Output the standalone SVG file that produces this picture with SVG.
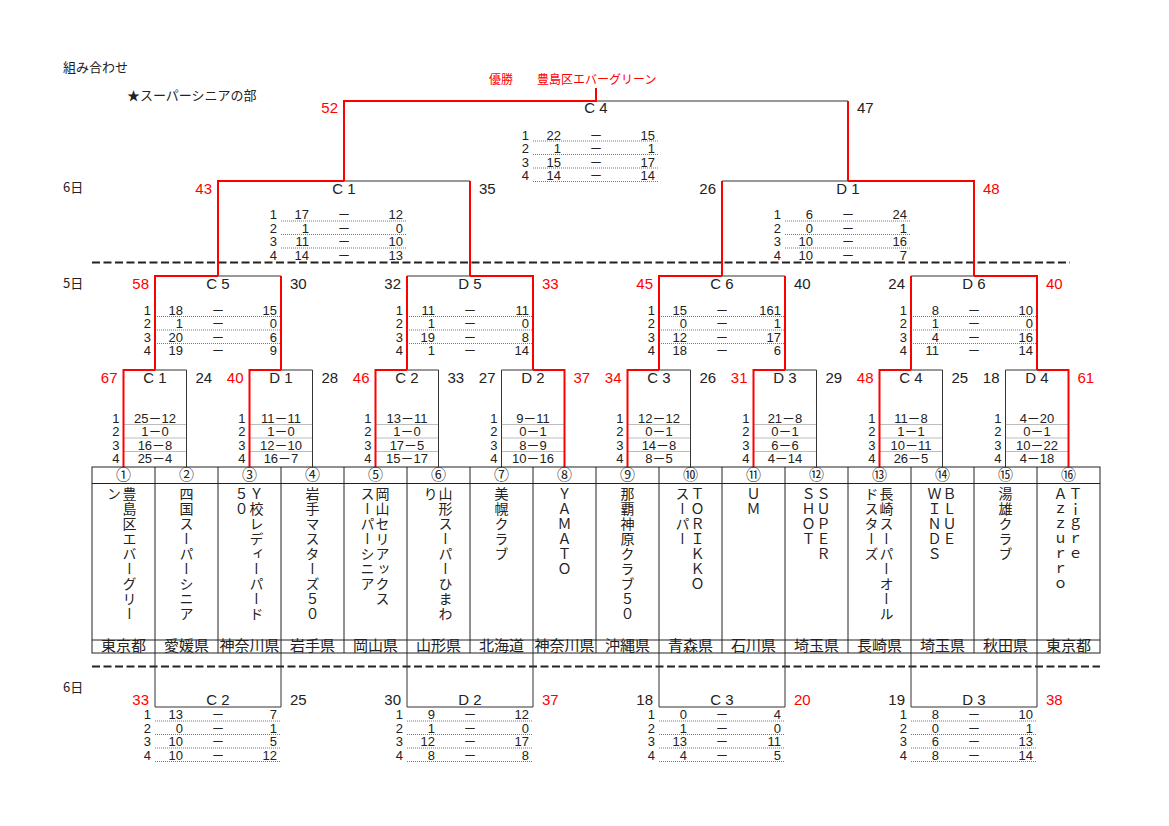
<svg xmlns="http://www.w3.org/2000/svg" width="1169" height="826" viewBox="0 0 1169 826">
<style>
text{font-family:"Liberation Sans","Noto Sans CJK JP",sans-serif;font-size:15px;fill:#222}
.sc text{font-size:13px}
.j{font-family:"Noto Sans CJK JP",sans-serif}
.s13{font-size:13px}
.s12{font-size:12px}
.rd{fill:#f00}
.e{text-anchor:end}
.m{text-anchor:middle}
.v{writing-mode:vertical-rl;font-family:"Noto Sans CJK JP",sans-serif;font-size:14px;letter-spacing:1px}
.ln{stroke:#333;stroke-width:1;fill:none}
.rl{stroke:#f00;stroke-width:2;fill:none}
.dt{stroke:#555;stroke-width:0.8;stroke-dasharray:1 1;fill:none}
.dash{stroke:#222;stroke-width:2;stroke-dasharray:8 3.5;fill:none}
.tb{stroke:#222;stroke-width:1;fill:none}
</style>
<rect width="1169" height="826" fill="#fff"/>

<g id="header">
<text x="63" y="72" class="j s13">組み合わせ</text>
<text x="127" y="100" class="j s13">★スーパーシニアの部</text>
<text x="489" y="84" class="j s12 rd">優勝</text>
<text x="537" y="84" class="j s12 rd">豊島区エバーグリーン</text>
<text x="63" y="192" class="j s13">6日</text>
<text x="63" y="288" class="j s13">5日</text>
<text x="63" y="692" class="j s13">6日</text>
</g>

<g id="connectors">
<path class="dash" d="M92 262.5H1070"/>
<path class="dash" d="M92 666.5H1100"/>
<path class="ln" d="M123.5 467V370H186.5V467M249.5 467V370H312.5V467M375.5 467V370H438.5V467M501.5 467V370H564.5V467M627.5 467V370H690.5V467M753.5 467V370H816.5V467M879.5 467V370H942.5V467M1005.5 467V370H1068.5V467"/>
<path class="ln" d="M155 370V276H281V370M407 370V276H533V370M659 370V276H785V370M911 370V276H1037V370"/>
<path class="ln" d="M218 276V181H470V276M722 276V181H974V276"/>
<path class="ln" d="M344 181V101H848V181"/>
<path class="ln" d="M155 653V707H281V653M407 653V707H533V653M659 653V707H785V653M911 653V707H1037V653"/>
<path class="rl" d="M123.5 467V370H155M249.5 467V370H281M375.5 467V370H407M564.5 467V370H533M627.5 467V370H659M753.5 467V370H785M879.5 467V370H911M1068.5 467V370H1037"/>
<path class="rl" d="M281 370V276M155 370V276H218M407 370V276M533 370V276H470M785 370V276M659 370V276H722M911 370V276M1037 370V276H974"/>
<path class="rl" d="M470 276V181M218 276V181H344M722 276V181M974 276V181H848"/>
<path class="rl" d="M848 181V101M344 181V101H596V88"/>
</g>

<g id="table">
<rect class="tb" x="92" y="467" width="1008" height="186"/>
<path class="tb" d="M92 483.5H1100M92 640H1100M155 467V653M218 467V653M281 467V653M344 467V653M407 467V653M470 467V653M533 467V653M596 467V653M659 467V653M722 467V653M785 467V653M848 467V653M911 467V653M974 467V653M1037 467V653"/>
<g class="j s12">
<text x="123.5" y="479.5" class="m">①</text><text x="186.5" y="479.5" class="m">②</text><text x="249.5" y="479.5" class="m">③</text><text x="312.5" y="479.5" class="m">④</text>
<text x="375.5" y="479.5" class="m">⑤</text><text x="438.5" y="479.5" class="m">⑥</text><text x="501.5" y="479.5" class="m">⑦</text><text x="564.5" y="479.5" class="m">⑧</text>
<text x="627.5" y="479.5" class="m">⑨</text><text x="690.5" y="479.5" class="m">⑩</text><text x="753.5" y="479.5" class="m">⑪</text><text x="816.5" y="479.5" class="m">⑫</text>
<text x="879.5" y="479.5" class="m">⑬</text><text x="942.5" y="479.5" class="m">⑭</text><text x="1005.5" y="479.5" class="m">⑮</text><text x="1068.5" y="479.5" class="m">⑯</text>
<text x="123.5" y="650.5" class="m">東京都</text><text x="186.5" y="650.5" class="m">愛媛県</text><text x="249.5" y="650.5" class="m">神奈川県</text><text x="312.5" y="650.5" class="m">岩手県</text>
<text x="375.5" y="650.5" class="m">岡山県</text><text x="438.5" y="650.5" class="m">山形県</text><text x="501.5" y="650.5" class="m">北海道</text><text x="564.5" y="650.5" class="m">神奈川県</text>
<text x="627.5" y="650.5" class="m">沖縄県</text><text x="690.5" y="650.5" class="m">青森県</text><text x="753.5" y="650.5" class="m">石川県</text><text x="816.5" y="650.5" class="m">埼玉県</text>
<text x="879.5" y="650.5" class="m">長崎県</text><text x="942.5" y="650.5" class="m">埼玉県</text><text x="1005.5" y="650.5" class="m">秋田県</text><text x="1068.5" y="650.5" class="m">東京都</text>
</g>
</g>

<g id="team1"><text class="v" x="129.5" y="487">豊島区エバーグリー</text><text class="v" x="114" y="487">ン</text></g>
<g id="team2"><text class="v" x="186.5" y="487">四国スーパーシニア</text></g>
<g id="team3"><text class="v" x="256.5" y="487">Ｙ校レディーパード</text><text class="v" x="241.5" y="487">５０</text></g>
<g id="team4"><text class="v" x="312.5" y="487">岩手マスターズ５０</text></g>
<g id="team5"><text class="v" x="382.5" y="487">岡山セリアックス</text><text class="v" x="367.5" y="487">スーパーシニア</text></g>
<g id="team6"><text class="v" x="445.5" y="487">山形スーパーひまわ</text><text class="v" x="430.5" y="487">り</text></g>
<g id="team7"><text class="v" x="501.5" y="487">美幌クラブ</text></g>
<g id="team8"><text class="v" x="564.5" y="487">ＹＡＭＡＴＯ</text></g>
<g id="team9"><text class="v" x="627.5" y="487">那覇神原クラブ５０</text></g>
<g id="team10"><text class="v" x="697.5" y="487">ＴＯＲＩＫＫＯ</text><text class="v" x="682.5" y="487">スーパー</text></g>
<g id="team11"><text class="v" x="753.5" y="487">ＵＭ</text></g>
<g id="team12"><text class="v" x="823.5" y="487">ＳＵＰＥＲ</text><text class="v" x="808.5" y="487">ＳＨＯＴ</text></g>
<g id="team13"><text class="v" x="886.5" y="487">長崎スーパーオール</text><text class="v" x="871.5" y="487">ドスターズ</text></g>
<g id="team14"><text class="v" x="949.5" y="487">ＢＬＵＥ</text><text class="v" x="934.5" y="487">ＷＩＮＤＳ</text></g>
<g id="team15"><text class="v" x="1005.5" y="487">湯雄クラブ</text></g>
<g id="team16"><text class="v" x="1075.5" y="487">Ｔｉｇｒｅ</text><text class="v" x="1060.5" y="487">Ａｚｚｕｒｒｏ</text></g>

<g id="final-C4">
<text x="338" y="113" class="e rd">52</text><text x="596" y="113" class="m">C 4</text><text x="857" y="113">47</text>
<path class="dt" d="M533 141H659M533 154.5H659M533 168H659M533 181.5H659"/>
<g class="sc">
<text x="529" y="139.5" class="e">1</text><text x="561" y="139.5" class="e">22</text><text x="596" y="139.5" class="m">－</text><text x="655" y="139.5" class="e">15</text>
<text x="529" y="153" class="e">2</text><text x="561" y="153" class="e">1</text><text x="596" y="153" class="m">－</text><text x="655" y="153" class="e">1</text>
<text x="529" y="166.5" class="e">3</text><text x="561" y="166.5" class="e">15</text><text x="596" y="166.5" class="m">－</text><text x="655" y="166.5" class="e">17</text>
<text x="529" y="180" class="e">4</text><text x="561" y="180" class="e">14</text><text x="596" y="180" class="m">－</text><text x="655" y="180" class="e">14</text>
</g>
</g>

<g id="day6-C1">
<text x="212" y="193.5" class="e rd">43</text><text x="344" y="193.5" class="m">C 1</text><text x="479" y="193.5">35</text>
<path class="dt" d="M281 221H407M281 234.5H407M281 248H407"/>
<g class="sc">
<text x="277" y="219" class="e">1</text><text x="309" y="219" class="e">17</text><text x="344" y="219" class="m">－</text><text x="403" y="219" class="e">12</text>
<text x="277" y="232.5" class="e">2</text><text x="309" y="232.5" class="e">1</text><text x="344" y="232.5" class="m">－</text><text x="403" y="232.5" class="e">0</text>
<text x="277" y="246" class="e">3</text><text x="309" y="246" class="e">11</text><text x="344" y="246" class="m">－</text><text x="403" y="246" class="e">10</text>
<text x="277" y="259.5" class="e">4</text><text x="309" y="259.5" class="e">14</text><text x="344" y="259.5" class="m">－</text><text x="403" y="259.5" class="e">13</text>
</g>
</g>

<g id="day6-D1">
<text x="716" y="193.5" class="e">26</text><text x="848" y="193.5" class="m">D 1</text><text x="983" y="193.5" class="rd">48</text>
<path class="dt" d="M785 221H911M785 234.5H911M785 248H911"/>
<g class="sc">
<text x="781" y="219" class="e">1</text><text x="813" y="219" class="e">6</text><text x="848" y="219" class="m">－</text><text x="907" y="219" class="e">24</text>
<text x="781" y="232.5" class="e">2</text><text x="813" y="232.5" class="e">0</text><text x="848" y="232.5" class="m">－</text><text x="907" y="232.5" class="e">1</text>
<text x="781" y="246" class="e">3</text><text x="813" y="246" class="e">10</text><text x="848" y="246" class="m">－</text><text x="907" y="246" class="e">16</text>
<text x="781" y="259.5" class="e">4</text><text x="813" y="259.5" class="e">10</text><text x="848" y="259.5" class="m">－</text><text x="907" y="259.5" class="e">7</text>
</g>
</g>

<g id="day5-C5">
<text x="149" y="288.5" class="e rd">58</text><text x="218" y="288.5" class="m">C 5</text><text x="290" y="288.5">30</text>
<path class="dt" d="M155 316.5H281M155 330H281M155 343.5H281"/>
<g class="sc">
<text x="151" y="314.5" class="e">1</text><text x="183" y="314.5" class="e">18</text><text x="218" y="314.5" class="m">－</text><text x="277" y="314.5" class="e">15</text>
<text x="151" y="328" class="e">2</text><text x="183" y="328" class="e">1</text><text x="218" y="328" class="m">－</text><text x="277" y="328" class="e">0</text>
<text x="151" y="341.5" class="e">3</text><text x="183" y="341.5" class="e">20</text><text x="218" y="341.5" class="m">－</text><text x="277" y="341.5" class="e">6</text>
<text x="151" y="355" class="e">4</text><text x="183" y="355" class="e">19</text><text x="218" y="355" class="m">－</text><text x="277" y="355" class="e">9</text>
</g>
</g>

<g id="day5-D5">
<text x="401" y="288.5" class="e">32</text><text x="470" y="288.5" class="m">D 5</text><text x="542" y="288.5" class="rd">33</text>
<path class="dt" d="M407 316.5H533M407 330H533M407 343.5H533"/>
<g class="sc">
<text x="403" y="314.5" class="e">1</text><text x="435" y="314.5" class="e">11</text><text x="470" y="314.5" class="m">－</text><text x="529" y="314.5" class="e">11</text>
<text x="403" y="328" class="e">2</text><text x="435" y="328" class="e">1</text><text x="470" y="328" class="m">－</text><text x="529" y="328" class="e">0</text>
<text x="403" y="341.5" class="e">3</text><text x="435" y="341.5" class="e">19</text><text x="470" y="341.5" class="m">－</text><text x="529" y="341.5" class="e">8</text>
<text x="403" y="355" class="e">4</text><text x="435" y="355" class="e">1</text><text x="470" y="355" class="m">－</text><text x="529" y="355" class="e">14</text>
</g>
</g>

<g id="day5-C6">
<text x="653" y="288.5" class="e rd">45</text><text x="722" y="288.5" class="m">C 6</text><text x="794" y="288.5">40</text>
<path class="dt" d="M659 316.5H785M659 330H785M659 343.5H785"/>
<g class="sc">
<text x="655" y="314.5" class="e">1</text><text x="687" y="314.5" class="e">15</text><text x="722" y="314.5" class="m">－</text><text x="781" y="314.5" class="e">161</text>
<text x="655" y="328" class="e">2</text><text x="687" y="328" class="e">0</text><text x="722" y="328" class="m">－</text><text x="781" y="328" class="e">1</text>
<text x="655" y="341.5" class="e">3</text><text x="687" y="341.5" class="e">12</text><text x="722" y="341.5" class="m">－</text><text x="781" y="341.5" class="e">17</text>
<text x="655" y="355" class="e">4</text><text x="687" y="355" class="e">18</text><text x="722" y="355" class="m">－</text><text x="781" y="355" class="e">6</text>
</g>
</g>

<g id="day5-D6">
<text x="905" y="288.5" class="e">24</text><text x="974" y="288.5" class="m">D 6</text><text x="1046" y="288.5" class="rd">40</text>
<path class="dt" d="M911 316.5H1037M911 330H1037M911 343.5H1037"/>
<g class="sc">
<text x="907" y="314.5" class="e">1</text><text x="939" y="314.5" class="e">8</text><text x="974" y="314.5" class="m">－</text><text x="1033" y="314.5" class="e">10</text>
<text x="907" y="328" class="e">2</text><text x="939" y="328" class="e">1</text><text x="974" y="328" class="m">－</text><text x="1033" y="328" class="e">0</text>
<text x="907" y="341.5" class="e">3</text><text x="939" y="341.5" class="e">4</text><text x="974" y="341.5" class="m">－</text><text x="1033" y="341.5" class="e">16</text>
<text x="907" y="355" class="e">4</text><text x="939" y="355" class="e">11</text><text x="974" y="355" class="m">－</text><text x="1033" y="355" class="e">14</text>
</g>
</g>

<g id="r1-C1">
<text x="117.5" y="382.5" class="e rd">67</text><text x="155" y="382.5" class="m">C 1</text><text x="195.5" y="382.5">24</text>
<path class="dt" d="M123.5 424.5H186.5M123.5 438H186.5M123.5 451.5H186.5"/>
<g class="sc">
<text x="119.5" y="422.5" class="e">1</text><text x="155" y="422.5" class="m">25－12</text>
<text x="119.5" y="436" class="e">2</text><text x="155" y="436" class="m">1－0</text>
<text x="119.5" y="449.5" class="e">3</text><text x="155" y="449.5" class="m">16－8</text>
<text x="119.5" y="463" class="e">4</text><text x="155" y="463" class="m">25－4</text>
</g>
</g>
<g id="r1-D1">
<text x="243.5" y="382.5" class="e rd">40</text><text x="281" y="382.5" class="m">D 1</text><text x="321.5" y="382.5">28</text>
<path class="dt" d="M249.5 424.5H312.5M249.5 438H312.5M249.5 451.5H312.5"/>
<g class="sc">
<text x="245.5" y="422.5" class="e">1</text><text x="281" y="422.5" class="m">11－11</text>
<text x="245.5" y="436" class="e">2</text><text x="281" y="436" class="m">1－0</text>
<text x="245.5" y="449.5" class="e">3</text><text x="281" y="449.5" class="m">12－10</text>
<text x="245.5" y="463" class="e">4</text><text x="281" y="463" class="m">16－7</text>
</g>
</g>
<g id="r1-C2">
<text x="369.5" y="382.5" class="e rd">46</text><text x="407" y="382.5" class="m">C 2</text><text x="447.5" y="382.5">33</text>
<path class="dt" d="M375.5 424.5H438.5M375.5 438H438.5M375.5 451.5H438.5"/>
<g class="sc">
<text x="371.5" y="422.5" class="e">1</text><text x="407" y="422.5" class="m">13－11</text>
<text x="371.5" y="436" class="e">2</text><text x="407" y="436" class="m">1－0</text>
<text x="371.5" y="449.5" class="e">3</text><text x="407" y="449.5" class="m">17－5</text>
<text x="371.5" y="463" class="e">4</text><text x="407" y="463" class="m">15－17</text>
</g>
</g>
<g id="r1-D2">
<text x="495.5" y="382.5" class="e">27</text><text x="533" y="382.5" class="m">D 2</text><text x="573.5" y="382.5" class="rd">37</text>
<path class="dt" d="M501.5 424.5H564.5M501.5 438H564.5M501.5 451.5H564.5"/>
<g class="sc">
<text x="497.5" y="422.5" class="e">1</text><text x="533" y="422.5" class="m">9－11</text>
<text x="497.5" y="436" class="e">2</text><text x="533" y="436" class="m">0－1</text>
<text x="497.5" y="449.5" class="e">3</text><text x="533" y="449.5" class="m">8－9</text>
<text x="497.5" y="463" class="e">4</text><text x="533" y="463" class="m">10－16</text>
</g>
</g>
<g id="r1-C3">
<text x="621.5" y="382.5" class="e rd">34</text><text x="659" y="382.5" class="m">C 3</text><text x="699.5" y="382.5">26</text>
<path class="dt" d="M627.5 424.5H690.5M627.5 438H690.5M627.5 451.5H690.5"/>
<g class="sc">
<text x="623.5" y="422.5" class="e">1</text><text x="659" y="422.5" class="m">12－12</text>
<text x="623.5" y="436" class="e">2</text><text x="659" y="436" class="m">0－1</text>
<text x="623.5" y="449.5" class="e">3</text><text x="659" y="449.5" class="m">14－8</text>
<text x="623.5" y="463" class="e">4</text><text x="659" y="463" class="m">8－5</text>
</g>
</g>
<g id="r1-D3">
<text x="747.5" y="382.5" class="e rd">31</text><text x="785" y="382.5" class="m">D 3</text><text x="825.5" y="382.5">29</text>
<path class="dt" d="M753.5 424.5H816.5M753.5 438H816.5M753.5 451.5H816.5"/>
<g class="sc">
<text x="749.5" y="422.5" class="e">1</text><text x="785" y="422.5" class="m">21－8</text>
<text x="749.5" y="436" class="e">2</text><text x="785" y="436" class="m">0－1</text>
<text x="749.5" y="449.5" class="e">3</text><text x="785" y="449.5" class="m">6－6</text>
<text x="749.5" y="463" class="e">4</text><text x="785" y="463" class="m">4－14</text>
</g>
</g>
<g id="r1-C4">
<text x="873.5" y="382.5" class="e rd">48</text><text x="911" y="382.5" class="m">C 4</text><text x="951.5" y="382.5">25</text>
<path class="dt" d="M879.5 424.5H942.5M879.5 438H942.5M879.5 451.5H942.5"/>
<g class="sc">
<text x="875.5" y="422.5" class="e">1</text><text x="911" y="422.5" class="m">11－8</text>
<text x="875.5" y="436" class="e">2</text><text x="911" y="436" class="m">1－1</text>
<text x="875.5" y="449.5" class="e">3</text><text x="911" y="449.5" class="m">10－11</text>
<text x="875.5" y="463" class="e">4</text><text x="911" y="463" class="m">26－5</text>
</g>
</g>
<g id="r1-D4">
<text x="999.5" y="382.5" class="e">18</text><text x="1037" y="382.5" class="m">D 4</text><text x="1077.5" y="382.5" class="rd">61</text>
<path class="dt" d="M1005.5 424.5H1068.5M1005.5 438H1068.5M1005.5 451.5H1068.5"/>
<g class="sc">
<text x="1001.5" y="422.5" class="e">1</text><text x="1037" y="422.5" class="m">4－20</text>
<text x="1001.5" y="436" class="e">2</text><text x="1037" y="436" class="m">0－1</text>
<text x="1001.5" y="449.5" class="e">3</text><text x="1037" y="449.5" class="m">10－22</text>
<text x="1001.5" y="463" class="e">4</text><text x="1037" y="463" class="m">4－18</text>
</g>
</g>

<g id="b-C2">
<text x="149" y="705" class="e rd">33</text><text x="218" y="705" class="m">C 2</text><text x="290" y="705">25</text>
<path class="dt" d="M155 721H281M155 734.5H281M155 748H281M155 761.5H281"/>
<g class="sc">
<text x="151" y="719" class="e">1</text><text x="183" y="719" class="e">13</text><text x="218" y="719" class="m">－</text><text x="277" y="719" class="e">7</text>
<text x="151" y="732.5" class="e">2</text><text x="183" y="732.5" class="e">0</text><text x="218" y="732.5" class="m">－</text><text x="277" y="732.5" class="e">1</text>
<text x="151" y="746" class="e">3</text><text x="183" y="746" class="e">10</text><text x="218" y="746" class="m">－</text><text x="277" y="746" class="e">5</text>
<text x="151" y="759.5" class="e">4</text><text x="183" y="759.5" class="e">10</text><text x="218" y="759.5" class="m">－</text><text x="277" y="759.5" class="e">12</text>
</g>
</g>
<g id="b-D2">
<text x="401" y="705" class="e">30</text><text x="470" y="705" class="m">D 2</text><text x="542" y="705" class="rd">37</text>
<path class="dt" d="M407 721H533M407 734.5H533M407 748H533M407 761.5H533"/>
<g class="sc">
<text x="403" y="719" class="e">1</text><text x="435" y="719" class="e">9</text><text x="470" y="719" class="m">－</text><text x="529" y="719" class="e">12</text>
<text x="403" y="732.5" class="e">2</text><text x="435" y="732.5" class="e">1</text><text x="470" y="732.5" class="m">－</text><text x="529" y="732.5" class="e">0</text>
<text x="403" y="746" class="e">3</text><text x="435" y="746" class="e">12</text><text x="470" y="746" class="m">－</text><text x="529" y="746" class="e">17</text>
<text x="403" y="759.5" class="e">4</text><text x="435" y="759.5" class="e">8</text><text x="470" y="759.5" class="m">－</text><text x="529" y="759.5" class="e">8</text>
</g>
</g>
<g id="b-C3">
<text x="653" y="705" class="e">18</text><text x="722" y="705" class="m">C 3</text><text x="794" y="705" class="rd">20</text>
<path class="dt" d="M659 721H785M659 734.5H785M659 748H785M659 761.5H785"/>
<g class="sc">
<text x="655" y="719" class="e">1</text><text x="687" y="719" class="e">0</text><text x="722" y="719" class="m">－</text><text x="781" y="719" class="e">4</text>
<text x="655" y="732.5" class="e">2</text><text x="687" y="732.5" class="e">1</text><text x="722" y="732.5" class="m">－</text><text x="781" y="732.5" class="e">0</text>
<text x="655" y="746" class="e">3</text><text x="687" y="746" class="e">13</text><text x="722" y="746" class="m">－</text><text x="781" y="746" class="e">11</text>
<text x="655" y="759.5" class="e">4</text><text x="687" y="759.5" class="e">4</text><text x="722" y="759.5" class="m">－</text><text x="781" y="759.5" class="e">5</text>
</g>
</g>
<g id="b-D3">
<text x="905" y="705" class="e">19</text><text x="974" y="705" class="m">D 3</text><text x="1046" y="705" class="rd">38</text>
<path class="dt" d="M911 721H1037M911 734.5H1037M911 748H1037M911 761.5H1037"/>
<g class="sc">
<text x="907" y="719" class="e">1</text><text x="939" y="719" class="e">8</text><text x="974" y="719" class="m">－</text><text x="1033" y="719" class="e">10</text>
<text x="907" y="732.5" class="e">2</text><text x="939" y="732.5" class="e">0</text><text x="974" y="732.5" class="m">－</text><text x="1033" y="732.5" class="e">1</text>
<text x="907" y="746" class="e">3</text><text x="939" y="746" class="e">6</text><text x="974" y="746" class="m">－</text><text x="1033" y="746" class="e">13</text>
<text x="907" y="759.5" class="e">4</text><text x="939" y="759.5" class="e">8</text><text x="974" y="759.5" class="m">－</text><text x="1033" y="759.5" class="e">14</text>
</g>
</g>
</svg>
